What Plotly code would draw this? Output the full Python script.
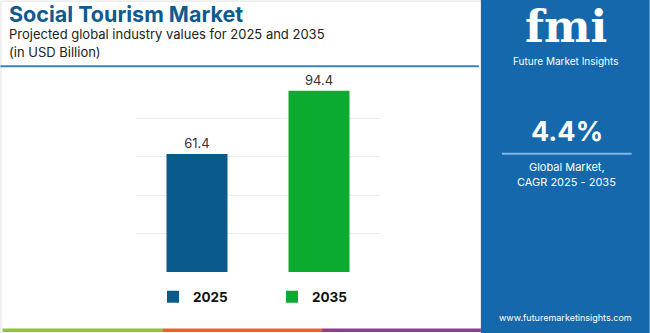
import plotly.graph_objects as go

years = ["2025", "2035"]
values = [61.4, 94.4]
bar_colors = ["#0b5a8e", "#0aab2e"]
cagr_text = "4.4%"

W, H = 650, 333
ML, MR, MT, MB = 135.7, 270, 80.3, 61

fig = go.Figure()
legend_ids = ["legend", "legend2"]
for y, v, c, lg in zip(years, values, bar_colors, legend_ids):
    fig.add_trace(go.Bar(
        x=[y], y=[v], name=y, marker=dict(color=c, line=dict(width=0)),
        text=[f"{v:.1f}"], textposition="outside",
        textfont=dict(family="Inter, sans-serif", size=13, color="#333333"),
        cliponaxis=False, showlegend=True, legend=lg,
    ))

leg_common = dict(
    orientation="v", xref="container", yref="container",
    yanchor="middle", xanchor="left",
    font=dict(family="Inter, sans-serif", size=13.5, color="#111111", weight="bold"),
    itemwidth=30, bgcolor="rgba(0,0,0,0)",
)

fig.update_layout(
    width=W, height=H,
    margin=dict(l=ML, r=MR, t=MT, b=MB, autoexpand=False),
    paper_bgcolor="white", plot_bgcolor="white",
    barmode="relative", bargap=0.5,
    font=dict(family="Inter, sans-serif"),
    showlegend=True,
    legend=dict(leg_common, x=153 / W, y=1 - 297 / H),
    legend2=dict(leg_common, x=272 / W, y=1 - 297 / H),
    xaxis=dict(showticklabels=False, showgrid=False, zeroline=False, showline=False,
               range=[-0.5, 1.5]),
    yaxis=dict(range=[0, 100], dtick=20, showticklabels=False, showgrid=True,
               gridcolor="#ececec", gridwidth=1, zeroline=False, showline=False),
)

def px(x):
    return (x - ML) / (W - ML - MR)
def py(y):
    return (H - MB - y) / (H - MT - MB)

shp = []
shp.append(dict(type="line", xref="paper", yref="paper", x0=px(0.5), x1=px(0.5), y0=py(333), y1=py(2),
                line=dict(color="#e0e0e0", width=1), layer="below"))
shp.append(dict(type="line", xref="paper", yref="paper", x0=px(0), x1=px(481), y0=py(1.5), y1=py(1.5),
                line=dict(color="#e0e0e0", width=1), layer="below"))
# blue rule under title
shp.append(dict(type="line", xref="paper", yref="paper", x0=px(0), x1=px(479), y0=py(66.5), y1=py(66.5),
                line=dict(color="#3a82bd", width=2), layer="below"))
# right panel
shp.append(dict(type="rect", xref="paper", yref="paper", x0=px(481), x1=px(650), y0=py(333), y1=py(0),
                fillcolor="#1468ab", line=dict(width=0), layer="below"))
# bottom stripes
for x0, x1, c in [(2, 162, "#8cc63f"), (162, 322, "#e8632b"), (322, 481, "#8e3a96")]:
    shp.append(dict(type="rect", xref="paper", yref="paper", x0=px(x0), x1=px(x1), y0=py(332), y1=py(328.5),
                    fillcolor=c, line=dict(width=0)))
# line in right panel
shp.append(dict(type="line", xref="paper", yref="paper", x0=px(502), x1=px(632), y0=py(154), y1=py(154),
                line=dict(color="#7fb6e6", width=2)))
fig.update_layout(shapes=shp)

def ann(x, y, text, size, color, bold=False, xanchor="left", family="Inter, sans-serif"):
    fig.add_annotation(xref="paper", yref="paper", x=px(x), y=py(y), text=text, showarrow=False,
                       xanchor=xanchor, yanchor="middle",
                       font=dict(family=family, size=size, color=color, weight="bold" if bold else "normal"))

ann(7, 14, "Social Tourism Market", 21.5, "#0f5a8f", bold=True)
ann(7, 34, "Projected global industry values for 2025 and 2035", 13, "#222222")
ann(7, 52, "(in USD Billion)", 13, "#222222")

# right panel texts
ann(566, 27, "fmi", 44, "white", bold=True, xanchor="center", family="DejaVu Serif, serif")
ann(566, 61, "Future Market Insights", 10, "white", xanchor="center")
ann(567, 132, cagr_text, 27, "white", bold=True, xanchor="center")
ann(567, 167, "Global Market,", 11, "white", xanchor="center")
ann(567, 182, "CAGR 2025 - 2035", 11, "white", xanchor="center")
ann(566, 317, "www.futuremarketinsights.com", 9, "white", xanchor="center")

fig.write_html("out.html")
